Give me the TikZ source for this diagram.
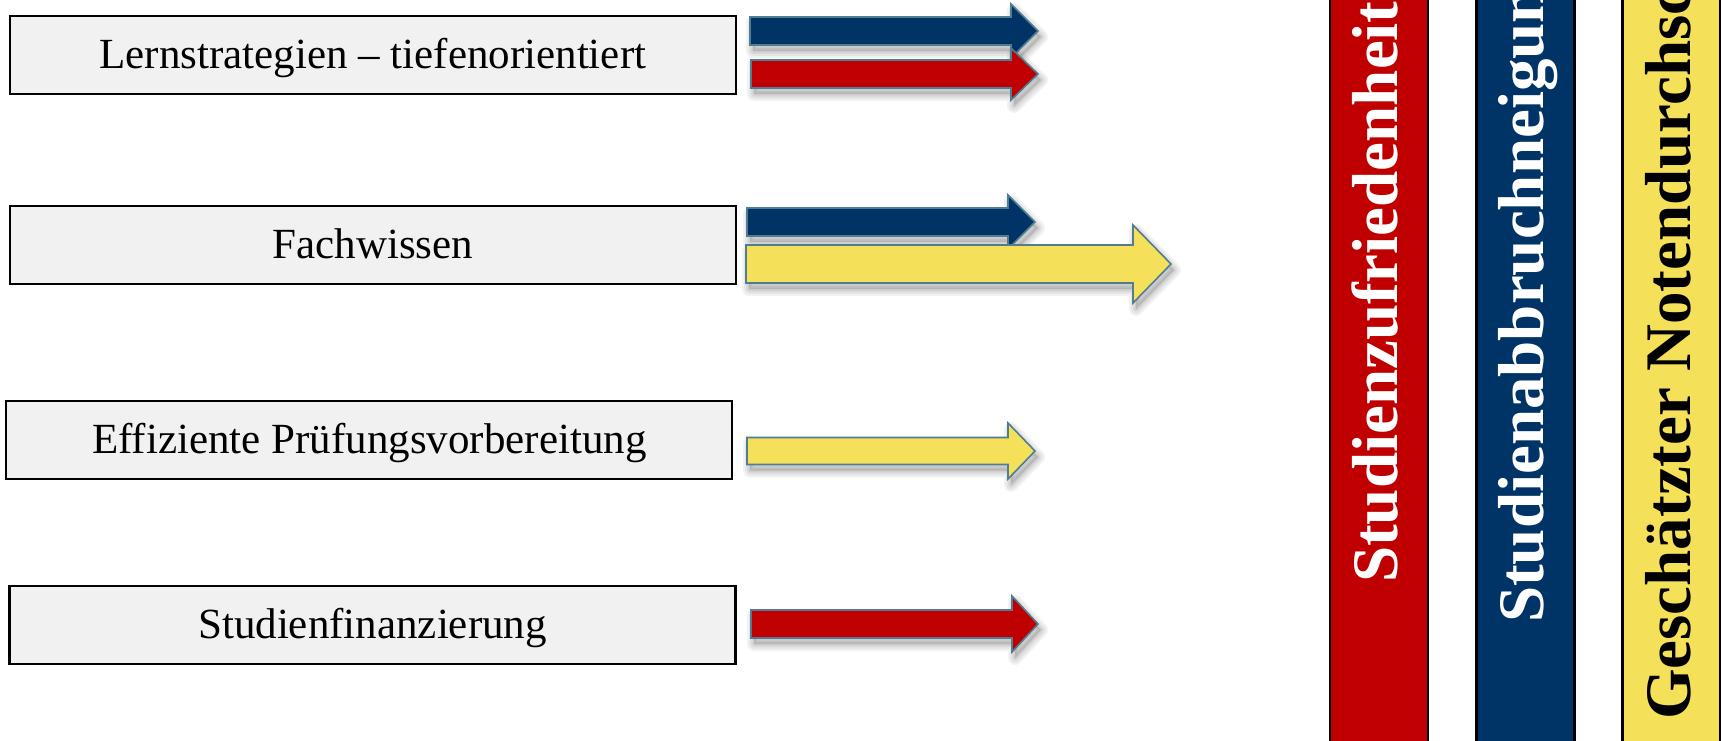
\documentclass[tikz,border=0pt]{standalone}
\usepackage{fontspec}
\setmainfont{Liberation Serif}
\definecolor{boxgray}{RGB}{241,241,241}
\definecolor{navy}{RGB}{0,51,102}
\definecolor{darkred}{RGB}{192,0,0}
\definecolor{sun}{RGB}{245,224,90}
\definecolor{arrowedge}{RGB}{80,125,145}

% outline of a block arrow: x start, head base x, tip x, mid y, shaft half height, head half height
\newcommand{\arrowpath}[6]{(#1,#4-#5) -- (#2,#4-#5) -- (#2,#4-#6) -- (#3,#4) -- (#2,#4+#6) -- (#2,#4+#5) -- (#1,#4+#5) -- cycle}
% block arrow with a soft drop shadow
\newcommand{\blockarrow}[7]{%
  \begin{scope}[shift={(3,6)}]
    \foreach \w in {14,10,6,3}{\draw[black,opacity=0.05,line width=\w pt,line join=round] \arrowpath{#2}{#3}{#4}{#5}{#6}{#7};}
    \fill[black,opacity=0.12] \arrowpath{#2}{#3}{#4}{#5}{#6}{#7};
  \end{scope}
  \draw[fill=#1,draw=arrowedge,line width=1.6pt,line join=miter] \arrowpath{#2}{#3}{#4}{#5}{#6}{#7};
}

\begin{document}
\begin{tikzpicture}[x=1pt,y=-1pt,
  factor/.style={draw=black, line width=2.2pt, fill=boxgray, minimum width=726pt,
    minimum height=78pt, inner sep=0pt, text height=27pt, text depth=0pt,
    font=\fontsize{43}{50}\selectfont, text=black},
  outcome/.style={draw=black, line width=2.4pt, minimum width=98pt, minimum height=800pt, inner sep=0pt},
  outlabel/.style={rotate=90, anchor=base west, inner sep=0pt, font=\bfseries\fontsize{65}{70}\selectfont}
]
\useasboundingbox (0,0) rectangle (1721,740);
\clip (0,0) rectangle (1721,740);

% predictors
\node[factor] (lern) at (372.8,55) {Lernstrategien -- tiefenorientiert};
\node[factor] (fach) at (372.8,245) {Fachwissen};
\node[factor] (pruef) at (369.3,440) {Effiziente Prüfungsvorbereitung};
\node[factor] (fin) at (372.5,625) {Studienfinanzierung};

% effect arrows
\blockarrow{navy}{750}{1011}{1038}{31}{14}{27}
\blockarrow{darkred}{751}{1011}{1038}{74}{14}{26}
\blockarrow{navy}{747}{1008}{1035}{222}{14}{27}
\blockarrow{sun}{746}{1133}{1171}{264}{19}{39}
\blockarrow{sun}{747}{1008}{1035}{451}{13.5}{28}
\blockarrow{darkred}{751}{1012}{1038}{624}{14}{28}

% outcomes
\node[outcome, fill=darkred] (zufr) at (1379,370) {};
\node[outcome, fill=navy] (abbr) at (1525.5,370) {};
\node[outcome, fill=sun] (note) at (1671.5,370) {};
\node[outlabel, text=white] (zufrtext) at (1397,583) {Studienzufriedenheit};
\node[outlabel, text=white] (abbrtext) at (1543,623) {Studienabbruchneigung};
\node[outlabel, text=black] (notetext) at (1690,720) {Geschätzter Notendurchschnitt};
\end{tikzpicture}
\end{document}
